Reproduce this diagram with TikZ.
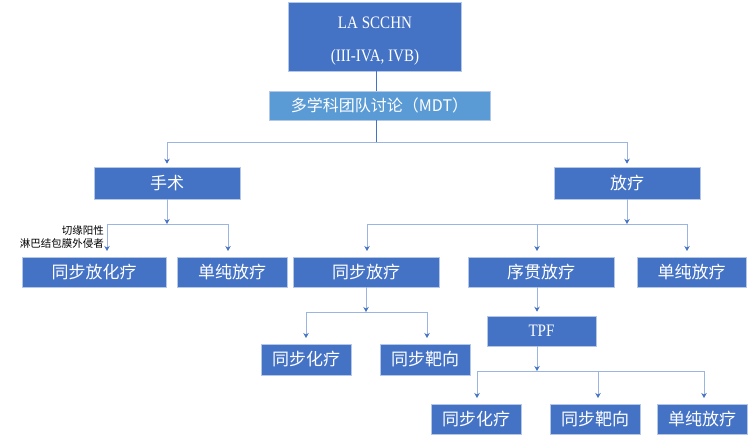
\documentclass[tikz,border=0pt]{standalone}
\usepackage{fontspec}
\usetikzlibrary{arrows.meta,calc}
\newfontfamily\cjk{Noto Sans CJK SC}
\newfontfamily\latserif[FakeStretch=0.86]{Liberation Serif}
\definecolor{boxblue}{HTML}{4472C4}
\definecolor{mdtblue}{HTML}{5B9BD5}
\definecolor{linec}{HTML}{9BB5E2}
\definecolor{edgec}{HTML}{B4C7E7}
\tikzset{
  bx/.style={rectangle, fill=boxblue, draw=edgec, line width=0.6pt, text=white, inner sep=0pt, align=center},
  cn/.style={font=\cjk\fontsize{17}{20}\selectfont},
  ln/.style={draw=linec, line width=1pt},
  ar/.style={ln, -{Stealth[length=5pt,width=5.5pt,color=boxblue]}},
}
\begin{document}
\begin{tikzpicture}[x=1pt,y=-1pt]
\useasboundingbox (0,0) rectangle (750,447);
% nodes
\node[bx, minimum width=173, minimum height=69] (top) at (375,36.5) {};
\node[text=white, inner sep=0pt, align=center, font=\latserif\fontsize{17.5}{33}\selectfont] (toptext) at (375,41) {LA SCCHN\\(III-IVA, IVB)};
\node[bx, fill=mdtblue, minimum width=221, minimum height=29, font=\cjk\fontsize{16}{18}\selectfont] (mdt) at (379.5,105.5) {多学科团队讨论（MDT）};
\node[bx, cn, minimum width=146, minimum height=32] (ss) at (167,183) {手术};
\node[bx, cn, minimum width=146, minimum height=32] (fl) at (627,183) {放疗};
\node[bx, cn, minimum width=144, minimum height=30] (a1) at (94,272) {同步放化疗};
\node[bx, cn, minimum width=110, minimum height=30] (a2) at (232,272) {单纯放疗};
\node[bx, cn, minimum width=146, minimum height=30] (a3) at (366,272) {同步放疗};
\node[bx, cn, minimum width=146, minimum height=30] (a4) at (541,272) {序贯放疗};
\node[bx, cn, minimum width=109, minimum height=30] (a5) at (691.5,272) {单纯放疗};
\node[bx, cn, minimum width=90, minimum height=31] (b1) at (306,359.5) {同步化疗};
\node[bx, cn, minimum width=90, minimum height=31] (b2) at (425,359.5) {同步靶向};
\node[bx, minimum width=109, minimum height=30, font=\latserif\fontsize{17.5}{20}\selectfont] (tpf) at (541.5,331) {TPF};
\node[bx, cn, minimum width=90, minimum height=30] (c1) at (476,419) {同步化疗};
\node[bx, cn, minimum width=90, minimum height=30] (c2) at (595,419) {同步靶向};
\node[bx, cn, minimum width=90, minimum height=30] (c3) at (702,419) {单纯放疗};
\node[anchor=east, inner sep=0pt, font=\cjk\fontsize{10.5}{12}\selectfont] (lab1) at (104,230) {切缘阳性};
\node[anchor=east, inner sep=0pt, font=\cjk\fontsize{10.5}{12}\selectfont] (lab2) at (104,243) {淋巴结包膜外侵者};
% junction coordinates
\coordinate (j0) at (376,142);
\coordinate (j1) at (167,224);
\coordinate (j2) at (627,224);
\coordinate (j3) at (366,312);
\coordinate (j4) at (537,371);
% top to MDT
\draw[draw=boxblue, line width=1pt] (top.south -| 376,0) -- (mdt.north -| 376,0);
\draw[draw=boxblue, line width=1pt] (mdt.south -| 376,0) -- (j0);
% MDT branch
\draw[ln] (167,142) -- (627,142);
\draw[ar] (167,142) -- ($(ss.north)+(0,-3)$);
\draw[ar] (627,142) -- ($(fl.north)+(0,-3)$);
% surgery branch
\draw[ar] (ss.south) -- (j1);
\draw[ln] (107,224) -- (228,224);
\draw[ar] (107,224) -- (107,251);
\draw[ar] (228,224) -- (228,251);
% RT branch
\draw[ar] (fl.south) -- (j2);
\draw[ln] (367,224) -- (687,224);
\draw[ar] (367,224) -- (367,251);
\draw[ar] (537,224) -- (537,251);
\draw[ar] (687,224) -- (687,251);
% concurrent RT branch
\draw[ar] (a3.south) -- (j3);
\draw[ln] (306,312) -- (427,312);
\draw[ar] (306,312) -- (306,338);
\draw[ar] (427,312) -- (427,338);
% sequential to TPF
\draw[ar] (a4.south -| 537,0) -- ($(tpf.north -| 537,0)+(0,-4)$);
% TPF branch
\draw[ar] (tpf.south -| 537,0) -- (j4);
\draw[ln] (477,371) -- (704,371);
\draw[ar] (477,371) -- (477,398);
\draw[ar] (598,371) -- (598,398);
\draw[ar] (704,371) -- (704,398);
\end{tikzpicture}
\end{document}
